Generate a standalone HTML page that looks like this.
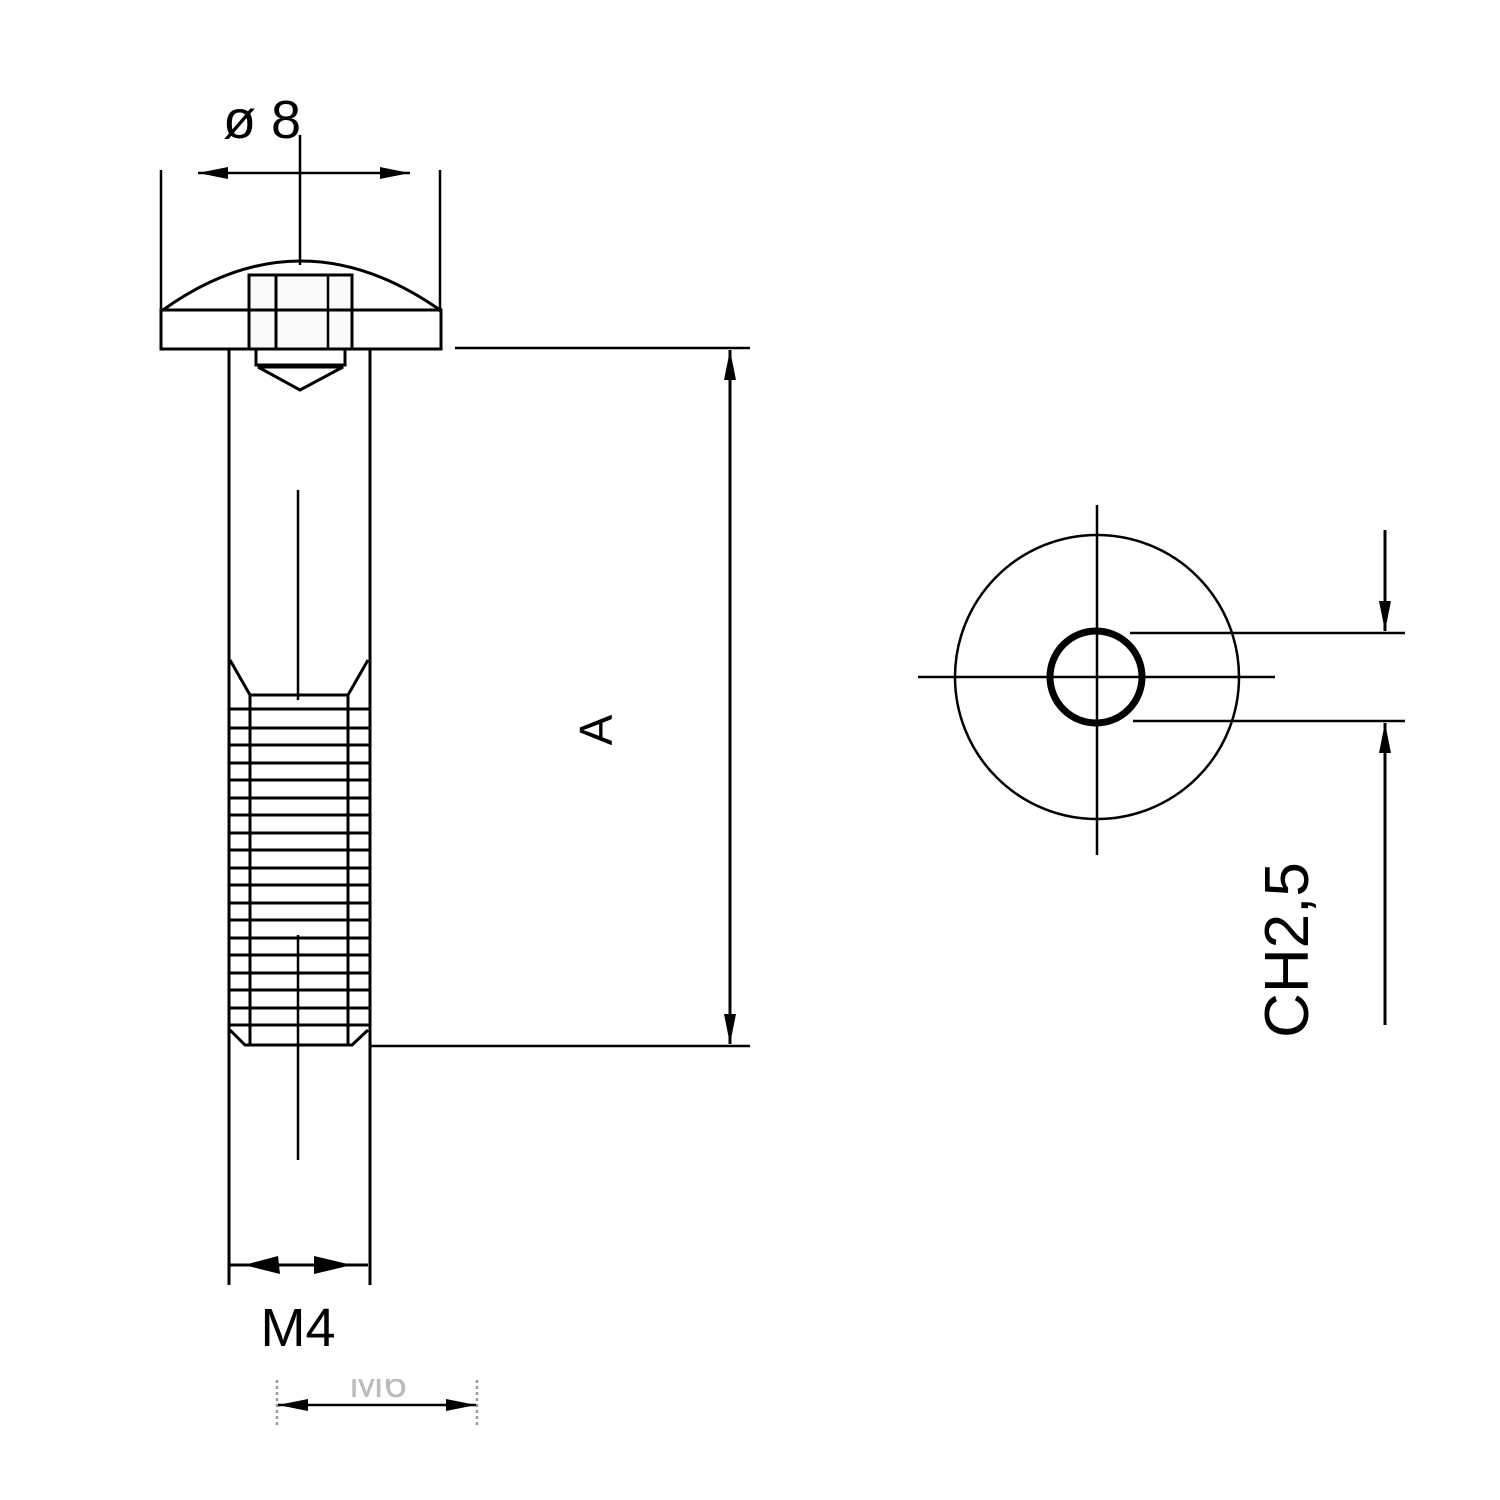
<!DOCTYPE html>
<html><head><style>html,body{margin:0;padding:0;background:#fff}svg{display:block}</style></head>
<body>
<svg width="1500" height="1500" viewBox="0 0 1500 1500" xmlns="http://www.w3.org/2000/svg" font-family="Liberation Sans, sans-serif">
<defs>
<marker id="ar" viewBox="0 0 30 14" refX="30" refY="7" markerWidth="30" markerHeight="14" markerUnits="userSpaceOnUse" orient="auto"><path d="M0,1 L30,7 L0,13 Z" fill="#000"/></marker>
</defs>
<g stroke="#000" fill="none" stroke-width="2.5">
<!-- ø8 -->
<line x1="161" y1="170" x2="161" y2="312"/>
<line x1="440" y1="170" x2="440" y2="312"/>
<line x1="300" y1="135" x2="300" y2="265"/>
<line x1="300" y1="173" x2="198" y2="173" marker-end="url(#ar)"/>
<line x1="300" y1="173" x2="410" y2="173" marker-end="url(#ar)"/>
<!-- head -->
<path d="M163,310 Q300,212 440,310" stroke-width="3"/>
<rect x="161" y="310" width="280" height="39" stroke-width="3"/>
<rect x="249" y="275" width="103" height="74" fill="#fafafa" stroke-width="3"/>
<line x1="276" y1="275" x2="276" y2="349" stroke-width="3"/>
<line x1="328" y1="275" x2="328" y2="349"/>
<line x1="249" y1="310" x2="352" y2="310" stroke-width="3"/>
<path d="M256,349 L256,365 L345,365 L345,349" stroke-width="3"/>
<path d="M258,367 L300,390 L343,367 Z" stroke-width="3"/>
<!-- shank -->
<line x1="229" y1="349" x2="229" y2="1285" stroke-width="3"/>
<line x1="370" y1="349" x2="370" y2="1285" stroke-width="3"/>
<line x1="298" y1="490" x2="298" y2="700"/>
<line x1="298" y1="935" x2="298" y2="1160"/>
<path d="M230,660 L250,695 L348,695 L368,660" stroke-width="3"/>
<line x1="250" y1="695" x2="250" y2="1045" stroke-width="3"/>
<line x1="348" y1="695" x2="348" y2="1045" stroke-width="3"/>
<path d="M230,1030 L245,1045 L352,1045 L368,1030" stroke-width="3"/>
<g stroke-width="3">
<line x1="229" y1="709" x2="370" y2="709"/><line x1="229" y1="728" x2="370" y2="728"/>
<line x1="229" y1="745" x2="370" y2="745"/><line x1="229" y1="763" x2="370" y2="763"/>
<line x1="229" y1="780" x2="370" y2="780"/><line x1="229" y1="798" x2="370" y2="798"/>
<line x1="229" y1="815" x2="370" y2="815"/><line x1="229" y1="833" x2="370" y2="833"/>
<line x1="229" y1="850" x2="370" y2="850"/><line x1="229" y1="868" x2="370" y2="868"/>
<line x1="229" y1="885" x2="370" y2="885"/><line x1="229" y1="903" x2="370" y2="903"/>
<line x1="229" y1="920" x2="370" y2="920"/><line x1="229" y1="938" x2="370" y2="938"/>
<line x1="229" y1="955" x2="370" y2="955"/><line x1="229" y1="973" x2="370" y2="973"/>
<line x1="229" y1="990" x2="370" y2="990"/><line x1="229" y1="1008" x2="370" y2="1008"/>
<line x1="229" y1="1025" x2="370" y2="1025"/>
</g>
<!-- A -->
<line x1="455" y1="348" x2="750" y2="348"/>
<line x1="370" y1="1046" x2="750" y2="1046"/>
<line x1="730" y1="697" x2="730" y2="350" marker-end="url(#ar)" stroke-width="3"/>
<line x1="730" y1="697" x2="730" y2="1044" marker-end="url(#ar)" stroke-width="3"/>
<!-- M4 -->
<line x1="229" y1="1265" x2="368" y2="1265" stroke-width="3"/>
<!-- M6 faint -->
<line x1="277" y1="1380" x2="277" y2="1425" stroke="#999" stroke-dasharray="3,3"/>
<line x1="477" y1="1380" x2="477" y2="1425" stroke="#999" stroke-dasharray="3,3"/>
<line x1="377" y1="1405" x2="278" y2="1405" marker-end="url(#ar)"/>
<line x1="377" y1="1405" x2="476" y2="1405" marker-end="url(#ar)"/>
<!-- right view -->
<circle cx="1097" cy="677" r="142" stroke-width="2.5"/>
<line x1="918" y1="677" x2="1275" y2="677" stroke-width="2.5"/>
<line x1="1097" y1="505" x2="1097" y2="855"/>
<circle cx="1096" cy="677" r="46" stroke-width="7"/>
<line x1="1130" y1="633" x2="1405" y2="633"/>
<line x1="1133" y1="721" x2="1405" y2="721"/>
<line x1="1385" y1="530" x2="1385" y2="631" marker-end="url(#ar)" stroke-width="3"/>
<line x1="1385" y1="1025" x2="1385" y2="723" marker-end="url(#ar)" stroke-width="3"/>
</g>
<g fill="#000">
<path d="M244,1265 L278,1256 L280,1274 Z"/>
<path d="M352,1265 L314,1256 L314,1274 Z"/>
<text x="262" y="138" font-size="54" text-anchor="middle">ø 8</text>
<text x="298" y="1346" font-size="54" text-anchor="middle">M4</text>
<text x="378" y="1397" font-size="42" text-anchor="middle" fill="#bbb">M6</text>
<text transform="translate(612,730) rotate(-90)" font-size="46" text-anchor="middle">A</text>
<text transform="translate(1308,950) rotate(-90)" font-size="62" text-anchor="middle">CH2,5</text>
</g>
<rect x="250" y="1355" width="260" height="24" fill="#fff"/>
</svg>
</body></html>
